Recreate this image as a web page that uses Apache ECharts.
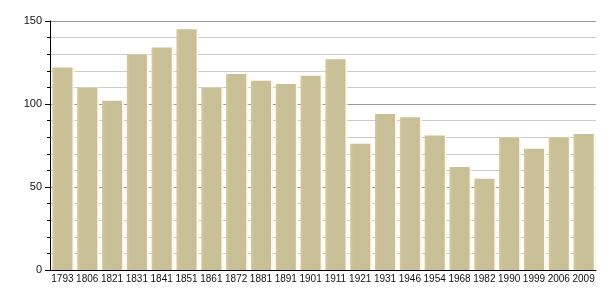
<!DOCTYPE html>
<html><head><meta charset="utf-8">
<script src="https://cdn.jsdelivr.net/npm/echarts@6/dist/echarts.min.js"></script>
<style>html,body{margin:0;padding:0;background:#fff}#c{width:605px;height:300px}</style>
</head><body><div id="c"></div>
<script>
const years = ['1793','1806','1821','1831','1841','1851','1861','1872','1881','1891','1901','1911','1921','1931','1946','1954','1968','1982','1990','1999','2006','2009'];
const population = [122,110,102,130,134,145,110,118,114,112,117,127,76,94,92,81,62,55,80,73,80,82];
const yTicks = [0,50,100,150];

const chart = echarts.init(document.getElementById('c'), null, {renderer:'canvas'});
chart.setOption({
  animation:false,
  grid:{left:50,right:9,top:21,bottom:30,containLabel:false},
  xAxis:{
    type:'category', data:years,
    axisLine:{lineStyle:{color:'#000',width:1}},
    axisTick:{show:false},
    axisLabel:{color:'#111',fontSize:10,fontFamily:'Liberation Sans, Arial, sans-serif',margin:4,interval:0}
  },
  yAxis:{
    type:'value', min:yTicks[0], max:yTicks[yTicks.length-1], interval:50,
    axisLine:{show:true,lineStyle:{color:'#000',width:1}},
    axisTick:{show:true,length:5,lineStyle:{color:'#000'}},
    minorTick:{show:true,splitNumber:5,length:3,lineStyle:{color:'#000'}},
    splitLine:{show:true,lineStyle:{color:'#999',width:1}},
    minorSplitLine:{show:true,lineStyle:{color:'#ccc',width:1}},
    axisLabel:{color:'#111',fontSize:11,fontFamily:'Liberation Sans, Arial, sans-serif',margin:8}
  },
  series:[{
    type:'bar', data:population, barCategoryGap:'19%',
    itemStyle:{
      color:new echarts.graphic.LinearGradient(0,0,1,0,[{offset:0,color:'#d2caa4'},{offset:0.15,color:'#c9c098'},{offset:1,color:'#c8bf96'}]),
      shadowColor:'rgba(255,248,225,0.9)', shadowOffsetX:2, shadowBlur:0
    }
  }]
});
</script></body></html>
